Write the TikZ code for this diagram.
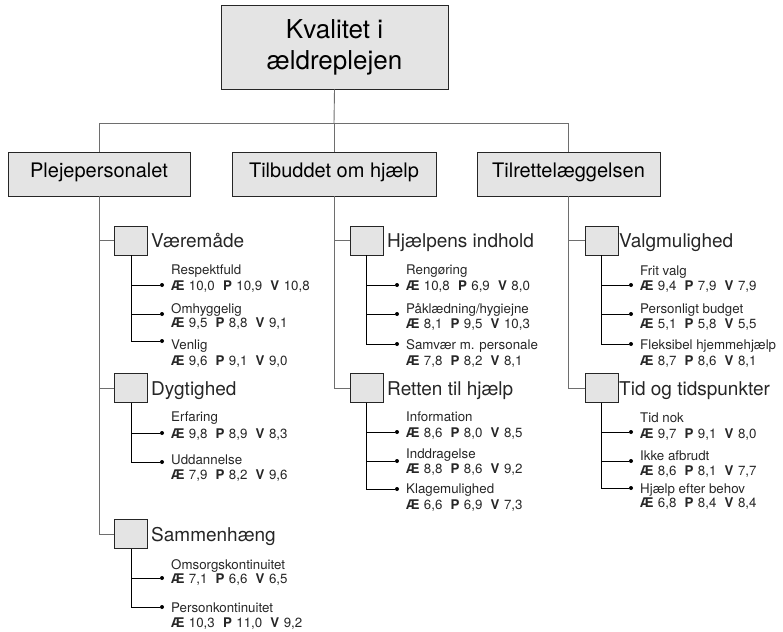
\documentclass[tikz,border=0pt]{standalone}
\usepackage{fontspec}
\setmainfont{TeX Gyre Heros}
\definecolor{boxgray}{HTML}{E4E4E4}
\definecolor{linegray}{HTML}{6E6E6E}
\definecolor{inkgray}{HTML}{262626}
% score line: Æ / P / V values
\newcommand\vals[3]{\textbf{Æ}\,\,#1\hspace{0.62em}\textbf{P}\,\,#2\hspace{0.62em}\textbf{V}\,\,#3}
% one leaf: id, parent square, text x, name y, values y, dot y, name, values
\newcommand\leafitem[8]{%
  \node[leafname] (#1n) at (#3,#4+5) {#7};
  \node[leafname] (#1v) at (#3,#5+5) {#8};
  \node[leafdot] (#1d) at (#3-9,#6) {};
  \draw[leafline] (#2.south) |- (#1d);
}
\begin{document}
\begin{tikzpicture}[x=1pt,y=-1pt,
  topbox/.style={draw=inkgray,fill=boxgray,line width=0.9pt,minimum width=227pt,
    minimum height=84pt,align=center,inner sep=0pt,
    font=\fontsize{26}{31}\selectfont},
  headbox/.style={draw=inkgray,fill=boxgray,line width=0.9pt,minimum height=44pt,
    inner sep=0pt,text height=1.5ex,text depth=.3ex,font=\fontsize{20}{24}\selectfont},
  sq/.style={draw=inkgray,fill=boxgray,line width=0.9pt,minimum width=33pt,
    minimum height=29pt,inner sep=0pt},
  sqlabel/.style={anchor=base west,inner sep=0pt,text=inkgray,
    font=\fontsize{19}{22}\selectfont},
  leafname/.style={anchor=base west,inner sep=0pt,text=inkgray,
    font=\fontsize{13.3}{15}\selectfont},
  leafdot/.style={circle,fill=black,inner sep=0pt,minimum size=4pt},
  trunk/.style={draw=linegray,line width=0.9pt},
  leafline/.style={draw=black,line width=0.9pt},
]
\useasboundingbox (0,0) rectangle (783,631);

% root and the three main areas
\node[topbox] (top) at (334.5,47) {Kvalitet i\\ældreplejen};
\node[headbox,minimum width=182pt] (c1) at (99,174) {Plejepersonalet};
\node[headbox,minimum width=204pt] (c2) at (334,174) {Tilbuddet om hjælp};
\node[headbox,minimum width=183pt] (c3) at (568.5,174) {Tilrettelæggelsen};

\coordinate (j0) at (334,123);
\draw[trunk] (top.south) -- (j0);
\draw[trunk] (c1.north) -- (c1.north |- j0) -- (c3.north |- j0) -- (c3.north);
\draw[trunk] (j0) -- (c2.north);

% sub-areas
\node[sq] (s11) at (131,240.5) {};
\node[sq] (s12) at (131,388) {};
\node[sq] (s13) at (131,534) {};
\node[sq] (s21) at (366.5,240.5) {};
\node[sq] (s22) at (366.5,388) {};
\node[sq] (s31) at (601.5,240.5) {};
\node[sq] (s32) at (601.5,388) {};

\node[sqlabel] (t11) at (151,247) {Væremåde};
\node[sqlabel] (t12) at (151,395) {Dygtighed};
\node[sqlabel] (t13) at (151,541) {Sammenhæng};
\node[sqlabel] (t21) at (387,247) {Hjælpens indhold};
\node[sqlabel] (t22) at (387,395) {Retten til hjælp};
\node[sqlabel] (t31) at (619,247) {Valgmulighed};
\node[sqlabel] (t32) at (619,395) {Tid og tidspunkter};

\foreach \s in {s11,s12,s13} \draw[trunk] (c1.south) |- (\s.west);
\foreach \s in {s21,s22} \draw[trunk] (c2.south) |- (\s.west);
\foreach \s in {s31,s32} \draw[trunk] (c3.south) |- (\s.west);

% Plejepersonalet
\leafitem{a1}{s11}{171}{269}{285}{285}{Respektfuld}{\vals{10,0}{10,9}{10,8}}
\leafitem{a2}{s11}{171}{308}{322}{314}{Omhyggelig}{\vals{9,5}{8,8}{9,1}}
\leafitem{a3}{s11}{171}{344}{360}{341}{Venlig}{\vals{9,6}{9,1}{9,0}}
\leafitem{b1}{s12}{171}{416}{433}{433}{Erfaring}{\vals{9,8}{8,9}{8,3}}
\leafitem{b2}{s12}{171}{459}{474}{462}{Uddannelse}{\vals{7,9}{8,2}{9,6}}
\leafitem{c1}{s13}{171}{564}{578}{578}{Omsorgskontinuitet}{\vals{7,1}{6,6}{6,5}}
\leafitem{c2}{s13}{171}{607}{622}{607}{Personkontinuitet}{\vals{10,3}{11,0}{9,2}}

% Tilbuddet om hjælp
\leafitem{d1}{s21}{406}{269}{285}{285}{Rengøring}{\vals{10,8}{6,9}{8,0}}
\leafitem{d2}{s21}{406}{308}{323}{314}{Påklædning/hygiejne}{\vals{8,1}{9,5}{10,3}}
\leafitem{d3}{s21}{406}{344}{360}{344}{Samvær m. personale}{\vals{7,8}{8,2}{8,1}}
\leafitem{e1}{s22}{406}{416}{432}{432}{Information}{\vals{8,6}{8,0}{8,5}}
\leafitem{e2}{s22}{406}{453}{468}{461}{Inddragelse}{\vals{8,8}{8,6}{9,2}}
\leafitem{e3}{s22}{406}{488}{504}{489}{Klagemulighed}{\vals{6,6}{6,9}{7,3}}

% Tilrettelæggelsen
\leafitem{f1}{s31}{640}{270}{285}{285}{Frit valg}{\vals{9,4}{7,9}{7,9}}
\leafitem{f2}{s31}{640}{308}{323}{314}{Personligt budget}{\vals{5,1}{5,8}{5,5}}
\leafitem{f3}{s31}{640}{344}{360}{344}{Fleksibel hjemmehjælp}{\vals{8,7}{8,6}{8,1}}
\leafitem{g1}{s32}{640}{417}{433}{432}{Tid nok}{\vals{9,7}{9,1}{8,0}}
\leafitem{g2}{s32}{640}{455}{470}{461}{Ikke afbrudt}{\vals{8,6}{8,1}{7,7}}
\leafitem{g3}{s32}{640}{488}{502}{488}{Hjælp efter behov}{\vals{6,8}{8,4}{8,4}}
\end{tikzpicture}
\end{document}
